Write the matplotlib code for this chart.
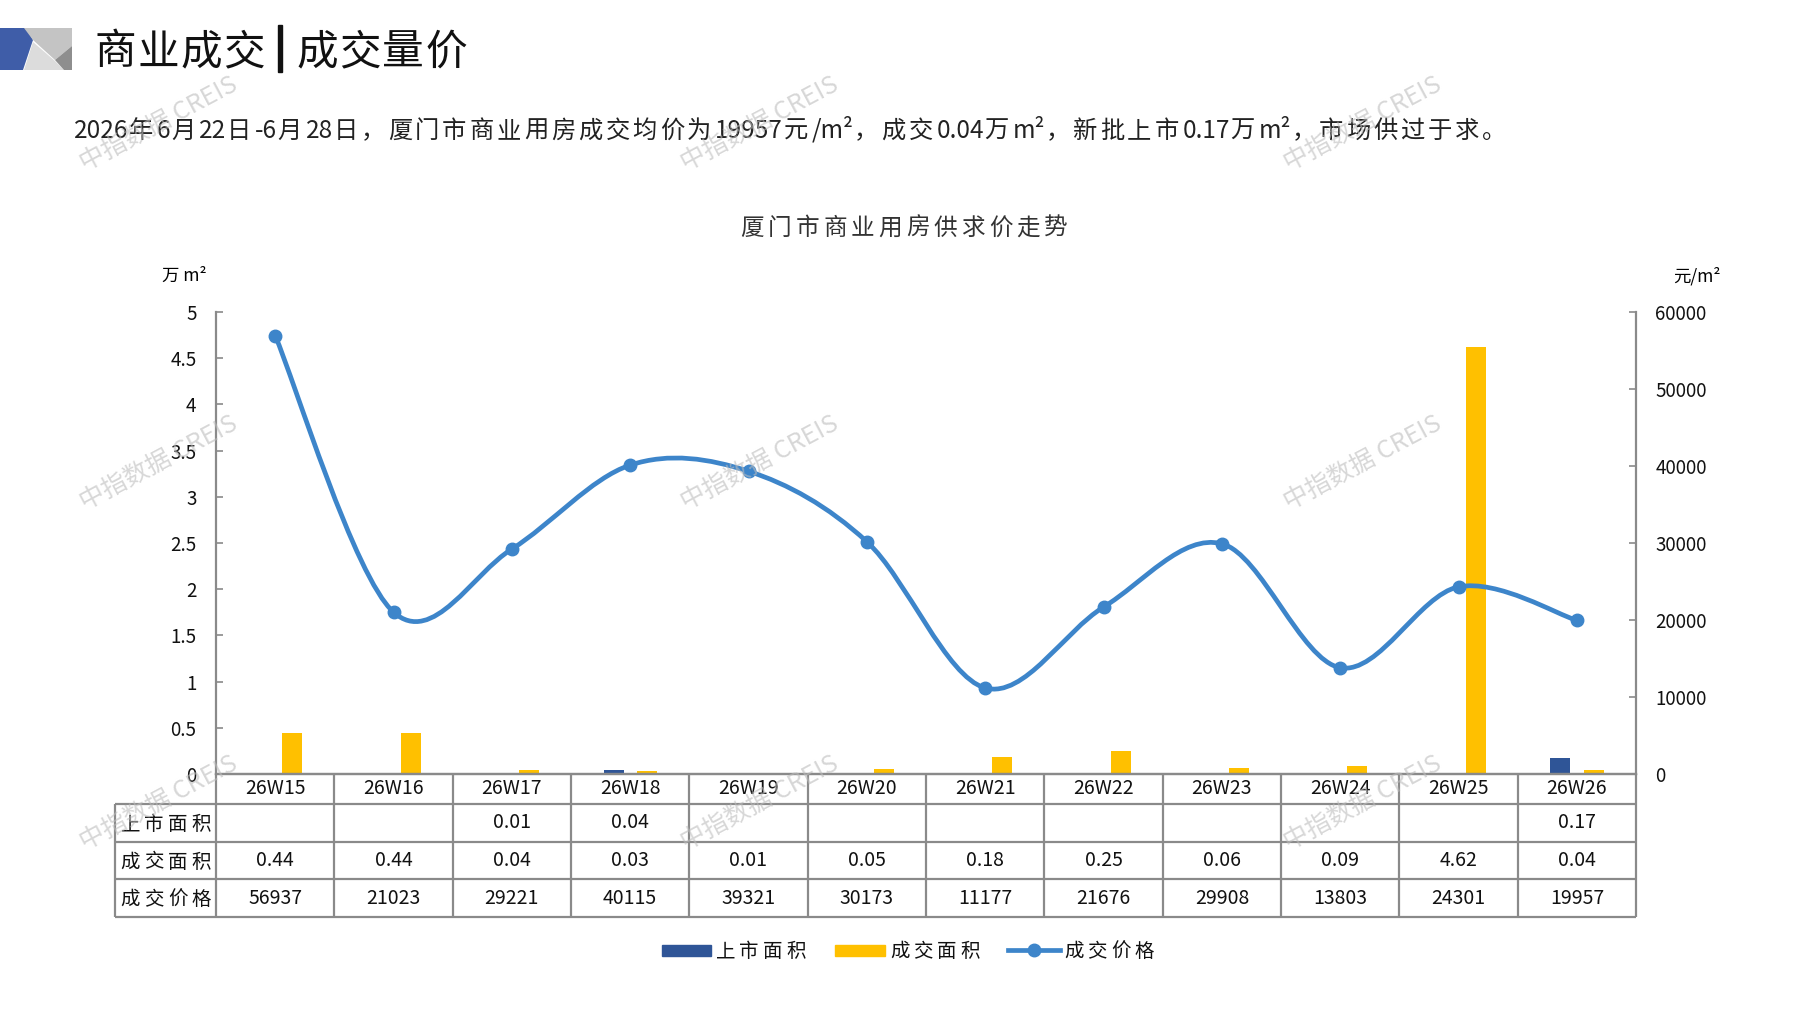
import numpy as np
import matplotlib
matplotlib.use("Agg")
import matplotlib.pyplot as plt
from matplotlib.path import Path
from matplotlib.patches import PathPatch, Polygon, Rectangle
from matplotlib.lines import Line2D

plt.rcParams['font.family'] = ['Noto Sans CJK SC', 'DejaVu Sans']

# 数据
weeks = ['26W15', '26W16', '26W17', '26W18', '26W19', '26W20',
         '26W21', '26W22', '26W23', '26W24', '26W25', '26W26']
listed_area = [np.nan, np.nan, 0.01, 0.04, np.nan, np.nan,
               np.nan, np.nan, np.nan, np.nan, np.nan, 0.17]
deal_area = [0.44, 0.44, 0.04, 0.03, 0.01, 0.05, 0.18, 0.25, 0.06, 0.09, 4.62, 0.04]
deal_price = [56937, 21023, 29221, 40115, 39321, 30173,
              11177, 21676, 29908, 13803, 24301, 19957]
left_ticks = [0, 0.5, 1, 1.5, 2, 2.5, 3, 3.5, 4, 4.5, 5]
right_ticks = [0, 10000, 20000, 30000, 40000, 50000, 60000]
row_names = ['上市面积', '成交面积', '成交价格']
series_names = ['上市面积', '成交面积', '成交价格']

blue_bar = '#2F5597'
yellow_bar = '#FFC000'
line_color = '#3D85CA'
grid_gray = '#8A8A8A'

W, H = 1797, 1010
fig = plt.figure(figsize=(W / 100, H / 100), dpi=100)
renderer = fig.canvas.get_renderer()


def fx(px):
    return px / W


def fy(py):
    return 1 - py / H


def is_wide(ch):
    return ord(ch) >= 0x2E80


def spaced_text(x_px, y_px, s, fs, extra, ha='left', pad=0.06, **kw):
    """逐字排版，给中文字符加一点字距（y_px 为字的中心）"""
    em = fs * 100 / 72
    runs = []
    for ch in s:
        if is_wide(ch) or not runs or is_wide(runs[-1][-1]):
            runs.append(ch)
        else:
            runs[-1] += ch
    widths = []
    for r in runs:
        if is_wide(r[0]):
            widths.append(em + extra)
        else:
            t = fig.text(0, 0, r, fontsize=fs, **kw)
            widths.append(t.get_window_extent(renderer).width + 2 * pad * em)
            t.remove()
    total = sum(widths) - extra
    x0 = x_px if ha == 'left' else x_px - total / 2
    base = y_px + 0.37 * em
    for r, w in zip(runs, widths):
        if is_wide(r[0]):
            fig.text(fx(x0 + em / 2), fy(base), r, fontsize=fs, ha='center',
                     va='baseline', **kw)
        else:
            fig.text(fx(x0 + pad * em), fy(base), r, fontsize=fs, ha='left',
                     va='baseline', **kw)
        x0 += w


# 左上角图标
logo = [
    ([(0, 28), (26, 28), (33, 40), (23, 70), (0, 70)], '#3F5DA8'),
    ([(24, 28), (72, 28), (72, 46), (55, 60), (33, 40)], '#C4C4C4'),
    ([(33, 42), (55, 61), (64, 70), (24, 70)], '#DCDCDC'),
    ([(72, 46), (72, 70), (64, 70), (55, 60)], '#8E8E8E'),
]
for pts, c in logo:
    fig.patches.append(Polygon([(fx(a), fy(b)) for a, b in pts], closed=True,
                               transform=fig.transFigure, facecolor=c, edgecolor='none'))

spaced_text(94, 49, '商业成交', 30, 1.5, color='#111111')
fig.patches.append(Rectangle((fx(278), fy(72)), fx(4), 47 / H,
                             transform=fig.transFigure, color='#111111'))
spaced_text(296, 49, '成交量价', 30, 1.5, color='#111111')
spaced_text(73, 129,
            '2026年6月22日-6月28日，厦门市商业用房成交均价为19957元/m²，成交0.04万m²，'
            '新批上市0.17万m²，市场供过于求。', 17.5, 2.9, pad=0.03, color='#222222')
spaced_text(904, 226, '厦门市商业用房供求价走势', 17, 4.0, ha='center', color='#333333')

# 主图
ax = fig.add_axes([fx(216), fy(774), fx(1636) - fx(216), fy(312) - fy(774)])
ax2 = ax.twinx()

x = np.arange(len(weeks))
bw = 0.17
ax.bar(x - 0.14, listed_area, bw, color=blue_bar, zorder=2)
ax.bar(x + 0.145, deal_area, bw, color=yellow_bar, zorder=2)
ax.set_xlim(-0.5, len(weeks) - 0.5)
ax.set_ylim(0, 5)
ax.set_yticks(left_ticks)
ax.set_yticklabels([f'{t:g}' for t in left_ticks])
ax.set_xticks([])

# 平滑折线
pts = np.column_stack([x, deal_price]).astype(float)
verts = [pts[0]]
codes = [Path.MOVETO]
n = len(pts)
for i in range(n - 1):
    p0 = pts[i - 1] if i > 0 else pts[i]
    p1 = pts[i]
    p2 = pts[i + 1]
    p3 = pts[i + 2] if i + 2 < n else pts[i + 1]
    verts += [p1 + (p2 - p0) / 6, p2 - (p3 - p1) / 6, p2]
    codes += [Path.CURVE4] * 3
ax2.add_patch(PathPatch(Path(verts, codes), fill=False, edgecolor=line_color,
                        lw=3.4, capstyle='round', zorder=3))
ax2.plot(x, deal_price, 'o', color=line_color, ms=9, zorder=4)
ax2.set_ylim(0, 60000)
ax2.set_yticks(right_ticks)

for a in (ax, ax2):
    a.spines['top'].set_visible(False)
    for s in ('left', 'right', 'bottom'):
        a.spines[s].set_color(grid_gray)
        a.spines[s].set_linewidth(1.6)
    a.tick_params(axis='y', direction='in', length=5, width=1.2, color=grid_gray,
                  labelsize=13.5, labelcolor='#111111', pad=14)
ax.spines['right'].set_visible(False)
ax2.spines['left'].set_visible(False)
ax.patch.set_visible(False)

fig.text(fx(184), fy(276), '万 m²', fontsize=12.5, ha='center', va='center')
fig.text(fx(1697), fy(276), '元/m²', fontsize=12.5, ha='center', va='center')

# 数据表
tr = ax.get_xaxis_transform()
col_w = 1420 / 12
label_left = -0.5 - (216 - 115) / col_w
rows_px = [0, 30, 68, 105, 143]
rows_y = [-r / 462 for r in rows_px]
lk = dict(color=grid_gray, lw=1.6, transform=tr, clip_on=False, solid_capstyle='butt')
for yy in rows_y[1:]:
    ax.plot([label_left, len(weeks) - 0.5], [yy, yy], **lk)
for i in range(len(weeks) + 1):
    ax.plot([i - 0.5, i - 0.5], [rows_y[0], rows_y[-1]], **lk)
ax.plot([label_left, label_left], [rows_y[1], rows_y[-1]], **lk)

cy = [(rows_y[k] + rows_y[k + 1]) / 2 for k in range(4)]
tk = dict(transform=tr, ha='center', va='center', fontsize=14, clip_on=False, color='#111111')
for i, w in enumerate(weeks):
    ax.text(i, cy[0], w, **tk)
    if not np.isnan(listed_area[i]):
        ax.text(i, cy[1], f'{listed_area[i]:.2f}', **tk)
    ax.text(i, cy[2], f'{deal_area[i]:.2f}', **tk)
    ax.text(i, cy[3], f'{deal_price[i]}', **tk)
for k, name in enumerate(row_names):
    cy_px = 774 + (rows_px[k + 1] + rows_px[k + 2]) / 2
    spaced_text(166, cy_px, name, 14, 4.2, ha='center', color='#111111')

# 图例
leg_y = 950
fig.patches.append(Rectangle((fx(662), fy(leg_y + 5.5)), fx(49), 11 / H,
                             transform=fig.transFigure, color=blue_bar))
fig.patches.append(Rectangle((fx(835), fy(leg_y + 5.5)), fx(50), 11 / H,
                             transform=fig.transFigure, color=yellow_bar))
fig.lines.append(Line2D([fx(1008), fx(1060)], [fy(leg_y), fy(leg_y)], transform=fig.transFigure,
                        color=line_color, lw=3.4))
fig.lines.append(Line2D([fx(1034)], [fy(leg_y)], transform=fig.transFigure,
                        color=line_color, marker='o', ms=9, lw=0))
for lx, name in zip((716, 890, 1064), series_names):
    spaced_text(lx, leg_y, name, 14, 4.0, color='#111111')

# 水印
for wx in (159, 760, 1363):
    for wy in (124, 463, 803):
        fig.text(fx(wx), fy(wy), '中指数据 CREIS', fontsize=18, rotation=28,
                 ha='center', va='center', color='#BDBDBD', alpha=0.6, zorder=10)

fig.savefig('out.png', dpi=100)
